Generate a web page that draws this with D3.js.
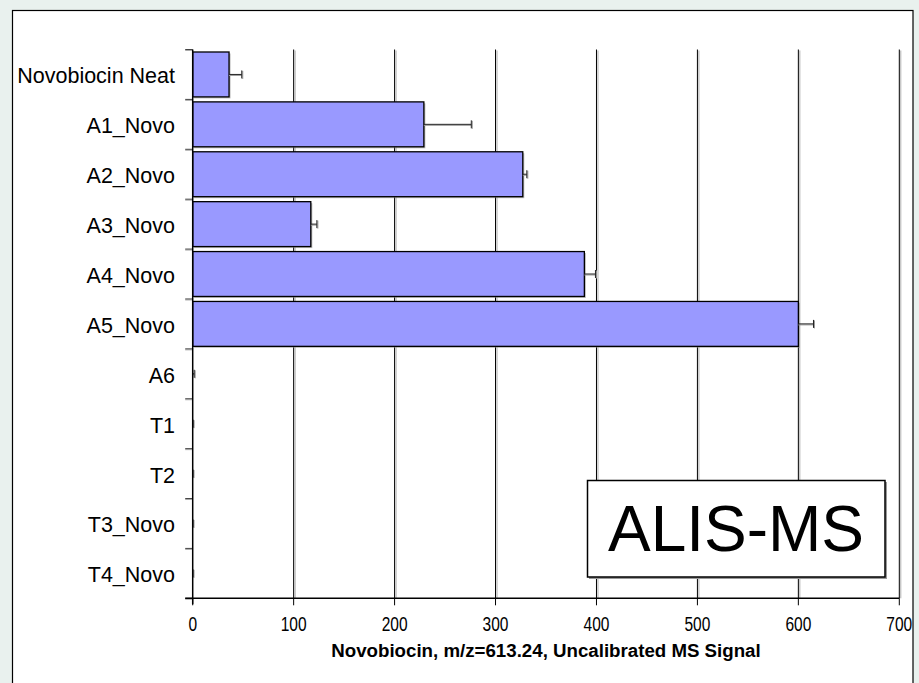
<!DOCTYPE html>
<html>
<head>
<meta charset="utf-8">
<script src="https://cdn.jsdelivr.net/npm/d3@7"></script>
<style>
  html, body { margin: 0; padding: 0; background: #e9f1ee; }
  svg { display: block; }
  text { font-family: Arial, "Liberation Sans", sans-serif; fill: #000; }
</style>
</head>
<body>
<svg id="chart" width="919" height="683"></svg>
<script>
const categories = ["Novobiocin Neat", "A1_Novo", "A2_Novo", "A3_Novo", "A4_Novo", "A5_Novo", "A6", "T1", "T2", "T3_Novo", "T4_Novo"];
const signalValues = [36, 229, 327, 117, 388, 600, 0.3, 0, 0, 0, 0];
const errorValues = [12.6, 47, 4, 6, 11, 15, 1.2, 0.4, 0.3, 0.3, 0.3];
const xTicks = [0, 100, 200, 300, 400, 500, 600, 700];
const xTitle = "Novobiocin, m/z=613.24, Uncalibrated MS Signal";
const boxLabel = "ALIS-MS";

(function () {
const data = categories.map((c, i) => ({ cat: c, v: signalValues[i], e: errorValues[i] }));

const svg = d3.select("#chart");

// frame
svg.append("rect").attr("x", 12.5).attr("y", 10.5).attr("width", 900.5).attr("height", 690)
  .attr("fill", "#fff").attr("stroke", "#000").attr("stroke-width", 1.2);

const pLeft = 192.7, pRight = 899.3, pTop = 49.5, pBottom = 598.3;
const x = d3.scaleLinear().domain([0, 700]).range([pLeft, pRight]);
const y = d3.scaleBand().domain(categories).range([pTop, pBottom]).paddingInner(0.1).paddingOuter(0.05);
const step = y.step();
const boundary = i => pTop + i * step;

// gridlines with shadow
const grid = svg.append("g");
xTicks.forEach(t => {
  if (t === 0) return;
  grid.append("line").attr("x1", x(t) + 1.5).attr("x2", x(t) + 1.5).attr("y1", pTop + 1).attr("y2", pBottom)
    .attr("stroke", "#b0b0b0").attr("stroke-width", 1);
  grid.append("line").attr("x1", x(t)).attr("x2", x(t)).attr("y1", pTop).attr("y2", pBottom)
    .attr("stroke", "#000").attr("stroke-width", 1);
});

// bars with shadow
const bars = svg.append("g");
data.filter(d => d.v >= 1).forEach(d => {
  bars.append("rect").attr("x", x(0) + 1.5).attr("y", y(d.cat) + 1.5)
    .attr("width", x(d.v) - x(0)).attr("height", y.bandwidth())
    .attr("fill", "#8c8c8c").attr("opacity", 0.6);
  bars.append("rect").attr("x", x(0)).attr("y", y(d.cat))
    .attr("width", x(d.v) - x(0)).attr("height", y.bandwidth())
    .attr("fill", "#9999ff").attr("stroke", "#000").attr("stroke-width", 1.3);
});

// error bars (plus direction only)
const err = svg.append("g");
data.forEach(d => {
  const cy = y(d.cat) + y.bandwidth() / 2;
  const x0 = x(d.v), x1 = x(d.v + d.e);
  err.append("line").attr("x1", x0).attr("x2", x1).attr("y1", cy + 1).attr("y2", cy + 1)
    .attr("stroke", "#999").attr("stroke-width", 1);
  err.append("line").attr("x1", x1 + 1).attr("x2", x1 + 1).attr("y1", cy - 3.5).attr("y2", cy + 4.5)
    .attr("stroke", "#999").attr("stroke-width", 1);
  err.append("line").attr("x1", x0).attr("x2", x1).attr("y1", cy).attr("y2", cy)
    .attr("stroke", "#222").attr("stroke-width", 1);
  err.append("line").attr("x1", x1).attr("x2", x1).attr("y1", cy - 4).attr("y2", cy + 4)
    .attr("stroke", "#222").attr("stroke-width", 1);
});

// y axis
const yAxis = svg.append("g");
d3.range(categories.length + 1).forEach(i => {
  yAxis.append("line").attr("x1", pLeft - 7.5).attr("x2", pLeft).attr("y1", boundary(i) + 1).attr("y2", boundary(i) + 1)
    .attr("stroke", "#aaa").attr("stroke-width", 1);
  yAxis.append("line").attr("x1", pLeft - 7.5).attr("x2", pLeft).attr("y1", boundary(i)).attr("y2", boundary(i))
    .attr("stroke", "#444").attr("stroke-width", 1);
});
yAxis.append("line").attr("x1", pLeft).attr("x2", pLeft).attr("y1", pTop).attr("y2", pBottom + 6)
  .attr("stroke", "#000").attr("stroke-width", 1.5);
categories.forEach(c => {
  yAxis.append("text").attr("x", 175).attr("y", y(c) + y.bandwidth() / 2 + 9)
    .attr("text-anchor", "end").attr("font-size", 21.5).text(c);
});

// x axis
const xAxis = svg.append("g");
xAxis.append("line").attr("x1", pLeft - 7.5).attr("x2", pRight).attr("y1", pBottom).attr("y2", pBottom)
  .attr("stroke", "#000").attr("stroke-width", 1.5);
xTicks.forEach(t => {
  xAxis.append("line").attr("x1", x(t)).attr("x2", x(t)).attr("y1", pBottom).attr("y2", pBottom + 7)
    .attr("stroke", "#000").attr("stroke-width", 1);
  xAxis.append("text").attr("transform", `translate(${x(t)},631) scale(0.74,1)`)
    .attr("text-anchor", "middle").attr("font-size", 21).text(t);
});
xAxis.append("text").attr("x", (pLeft + pRight) / 2).attr("y", 657)
  .attr("text-anchor", "middle").attr("font-size", 18.7).attr("font-weight", "bold").text(xTitle);

// ALIS-MS box
svg.append("rect").attr("x", 589).attr("y", 482).attr("width", 298).attr("height", 97).attr("fill", "#999");
svg.append("rect").attr("x", 587.5).attr("y", 480.5).attr("width", 297.5).attr("height", 96.5)
  .attr("fill", "#fff").attr("stroke", "#000").attr("stroke-width", 1.5);
svg.append("text").attr("x", 736).attr("y", 551).attr("text-anchor", "middle")
  .attr("font-size", 64).text(boxLabel);
})();
</script>
</body>
</html>
